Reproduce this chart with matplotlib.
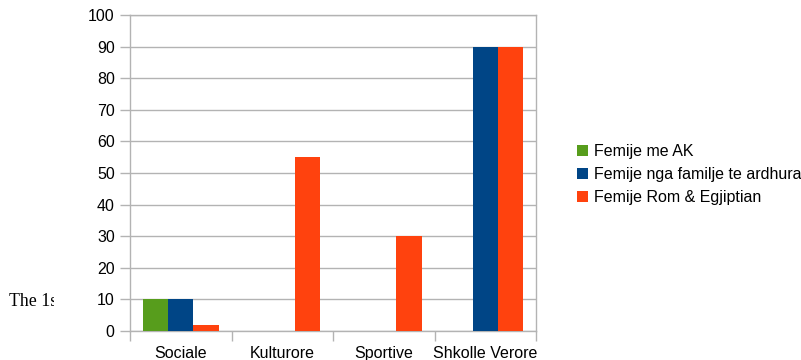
import matplotlib
matplotlib.use("Agg")
import matplotlib.pyplot as plt
import numpy as np
from matplotlib.patches import Rectangle

categories = ["Sociale", "Kulturore", "Sportive", "Shkolle Verore"]
series_names = ["Femije me AK", "Femije nga familje te ardhura", "Femije Rom & Egjiptian"]
femije_me_ak = [10, 0, 0, 0]
femije_ardhura = [10, 0, 0, 90]
femije_rom = [2, 55, 30, 90]
colors = ["#579d1c", "#004586", "#ff420e"]
yticks = list(range(0, 101, 10))

plt.rcParams['font.family'] = ['Liberation Sans', 'DejaVu Sans']
FS = 11.5

fig = plt.figure(figsize=(8.01, 3.6), dpi=100)
W, H = 801, 360
ax = fig.add_axes([130 / W, 1 - 331 / H, (536 - 130) / W, (331 - 15) / H])

x = np.arange(len(categories))
bw = 0.25
for i, (vals, name, c) in enumerate(zip([femije_me_ak, femije_ardhura, femije_rom], series_names, colors)):
    ax.bar(x + (i - 1) * bw, vals, width=bw, color=c, label=name, zorder=3)

ax.set_xlim(-0.5, len(categories) - 0.5)
ax.set_ylim(0, 100)
ax.set_yticks(yticks)
ax.set_yticklabels([str(v) for v in yticks], fontsize=FS)
ax.set_xticks(x)
ax.set_xticklabels(categories, fontsize=FS)
ax.tick_params(axis='x', length=0, pad=11)
ax.set_xticks(np.arange(-0.5, len(categories)), minor=True)
ax.tick_params(axis='x', which='minor', length=7, color='#b3b3b3', width=1)
ax.tick_params(axis='y', length=7, color='#b3b3b3', width=1, pad=4)
ax.grid(axis='y', color='#b3b3b3', linewidth=1, zorder=0)
for s in ax.spines.values():
    s.set_color('#b3b3b3')
    s.set_linewidth(1)

leg = fig.legend(loc='upper left', bbox_to_anchor=(577 / W, 1 - 144 / H), frameon=False,
                 fontsize=FS, handlelength=0.7, handleheight=0.7, handletextpad=0.35,
                 labelspacing=0.5, borderpad=0, borderaxespad=0)

fig.text(9 / W, 1 - 306 / H, "The 1s", fontsize=12.8, family=['Liberation Serif', 'DejaVu Serif'],
         zorder=1)
# cover the clipped part of the text
fig.patches.append(Rectangle((54 / W, 0.1), 0.05, 0.2, transform=fig.transFigure,
                             facecolor='white', edgecolor='none', zorder=10))

fig.savefig("out.png", dpi=100)
